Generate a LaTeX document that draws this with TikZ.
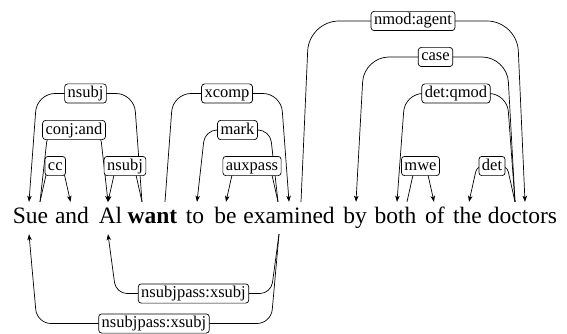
\documentclass[tikz,border=0pt]{standalone}
\usepackage{fontspec}
\setmainfont{Liberation Serif}
\usetikzlibrary{calc,arrows.meta}
\newcommand{\wordfont}{\fontsize{23.5pt}{26pt}\selectfont}
\newcommand{\labfont}{\fontsize{16.5pt}{18pt}\selectfont}
\newcommand{\deparc}[7]{\draw[arc,#1,rounded corners=#5] (#2) -- ($(#2 |- #4)+(8,0)$) -- node[lab] (#6) {#7} ($(#3 |- #4)+(-8,0)$) -- (#3);}
\begin{document}
\begin{tikzpicture}[x=1pt,y=-1pt,
  word/.style={font=\wordfont, anchor=base, inner xsep=0pt, inner ysep=5.5pt, text height=16pt, text depth=5pt},
  lab/.style={draw, fill=white, rounded corners=3pt, line width=0.7pt, font=\labfont, inner xsep=3pt, inner ysep=2pt, text height=11.6pt, text depth=3.6pt},
  arc/.style={draw, line width=0.7pt, >={Stealth[length=6pt,width=4.5pt,inset=1.5pt]}}]
\useasboundingbox (0,0) rectangle (567,334);
% words
\node[word] (sue) at (30.5,223.5) {Sue};
\node[word] (and) at (72,223.5) {and};
\node[word] (al) at (110.5,223.5) {Al};
\node[word] (want) at (152.5,223.5) {\textbf{want}};
\node[word] (to) at (195,223.5) {to};
\node[word] (be) at (225.5,223.5) {be};
\node[word] (ex) at (289,223.5) {examined};
\node[word] (by) at (355,223.5) {by};
\node[word] (both) at (395.5,223.5) {both};
\node[word] (of) at (435,223.5) {of};
\node[word] (the) at (467.5,223.5) {the};
\node[word] (doc) at (522.5,223.5) {doctors};
% feet
\coordinate (sueIn) at ([xshift=-1.5pt]sue.north);
\coordinate (sueOut) at ([xshift=9.5pt]sue.north);
\coordinate (andIn) at ([xshift=-1.5pt]and.north);
\coordinate (alIn) at ([xshift=-2.5pt]al.north);
\coordinate (wantOutL) at ([xshift=-10.5pt]want.north);
\coordinate (wantOutR) at ([xshift=12.5pt]want.north);
\coordinate (toIn) at ([xshift=2pt]to.north);
\coordinate (beIn) at ([xshift=0.5pt]be.north);
\coordinate (exOutL) at ([xshift=-11pt]ex.north);
\coordinate (exIn) at (ex.north);
\coordinate (exOutR) at ([xshift=12pt]ex.north);
\coordinate (byIn) at ([xshift=1pt]by.north);
\coordinate (bothIn) at ([xshift=1.5pt]both.north);
\coordinate (bothOut) at ([xshift=11.5pt]both.north);
\coordinate (ofIn) at ([xshift=-1pt]of.north);
\coordinate (theIn) at ([xshift=1.5pt]the.north);
\coordinate (docOut) at ([xshift=-7.5pt]doc.north);
\coordinate (docIn) at ([xshift=2.5pt]doc.north);
\coordinate (sueBot) at ([xshift=-1.5pt]sue.south);
\coordinate (alBot) at ([xshift=-2.5pt]al.south);
\coordinate (exBot) at ([xshift=-10pt]ex.south);
% levels
\coordinate (lv1) at (0,166);
\coordinate (lv2) at (0,130);
\coordinate (lv3) at (0,93.5);
\coordinate (lv4) at (0,57);
\coordinate (lv5) at (0,21);
\coordinate (lv6) at (0,293.5);
\coordinate (lv7) at (0,323.5);
% arcs, outer first
\deparc{->}{exOutR}{docIn}{lv5}{30pt}{l1}{nmod:agent}
\deparc{<-}{byIn}{docOut}{lv4}{25pt}{l2}{case}
\deparc{<-}{sueIn}{wantOutL}{lv3}{18pt}{l3}{nsubj}
\deparc{->}{wantOutR}{exIn}{lv3}{18pt}{l4}{xcomp}
\deparc{<-}{bothIn}{docOut}{lv3}{18pt}{l5}{det:qmod}
\deparc{->}{sueOut}{alIn}{lv2}{12pt}{l6}{conj:and}
\deparc{<-}{toIn}{exOutL}{lv2}{12pt}{l7}{mark}
\deparc{->}{sueOut}{andIn}{lv1}{6pt}{l8}{cc}
\deparc{<-}{alIn}{wantOutL}{lv1}{6pt}{l9}{nsubj}
\deparc{<-}{beIn}{exOutL}{lv1}{6pt}{l10}{auxpass}
\deparc{->}{bothOut}{ofIn}{lv1}{6pt}{l11}{mwe}
\deparc{<-}{theIn}{docOut}{lv1}{6pt}{l12}{det}
% lower arcs
\deparc{<-}{sueBot}{exBot}{lv7}{14pt}{l13}{nsubjpass:xsubj}
\deparc{<-}{alBot}{exBot}{lv6}{11pt}{l14}{nsubjpass:xsubj}
\end{tikzpicture}
\end{document}
